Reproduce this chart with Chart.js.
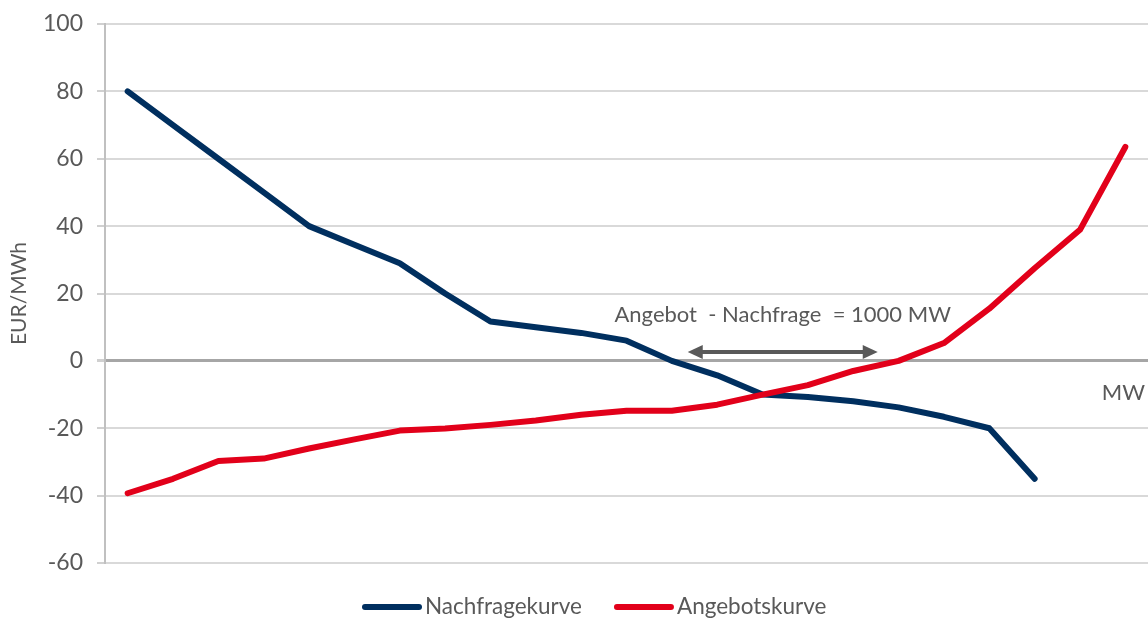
<!DOCTYPE html>
<html>
<head>
<meta charset="utf-8">
<script src="https://cdn.jsdelivr.net/npm/chart.js@4/dist/chart.umd.min.js"></script>
<style>
  html, body { margin: 0; padding: 0; background: #ffffff; }
  canvas { display: block; }
</style>
</head>
<body>
<canvas id="chart" width="1148" height="622"></canvas>
<script>
// Gebotsstufen (MW-Blöcke) entlang der x-Achse
const steps = ['1', '2', '3', '4', '5', '6', '7', '8', '9', '10', '11', '12',
               '13', '14', '15', '16', '17', '18', '19', '20', '21', '22', '23'];

// Preise in EUR/MWh
const nachfrage = [80, 70, 60, 50, 40, 34.5, 29, 20, 11.7, 10, 8.3, 6,
                   0, -4.3, -10, -10.7, -12, -13.8, -16.6, -20, -35, null, null];
const angebot   = [-39.3, -35, -29.7, -29, -26, -23.3, -20.7, -20.1, -19, -17.7, -16, -14.8,
                   -14.8, -13, -10, -7.2, -3, 0, 5.3, 15.5, 27.5, 38.9, 63.5];

const seriesNames = ['Nachfragekurve', 'Angebotskurve'];
const yTickValues = [-60, -40, -20, 0, 20, 40, 60, 80, 100];
const yTitle = 'EUR/MWh';
const xUnit = 'MW';

// Überschuss-Pfeil: von/bis (Stufenindex) und Höhe (EUR/MWh)
const gapLabel = 'Angebot  - Nachfrage  = 1000 MW';
const gapFrom = 12.35, gapTo = 16.54, gapLevel = 2.6, gapLabelLevel = 13.6;
const unitLevel = -9.4;

const FONT = 'Lato, "Open Sans", sans-serif';
const TEXT = '#595959';
const NAVY = '#002f5f';
const RED = '#e2001a';

const overlay = {
  id: 'overlay',
  afterDraw(chart) {
    const { ctx, scales: { x, y }, chartArea } = chart;
    ctx.save();

    // Doppelpfeil zwischen den Schnittpunkten mit der Nulllinie
    const x1 = x.getPixelForValue(gapFrom);
    const x2 = x.getPixelForValue(gapTo);
    const ya = y.getPixelForValue(gapLevel);
    const head = 15, half = 7;
    ctx.strokeStyle = TEXT;
    ctx.fillStyle = TEXT;
    ctx.lineWidth = 4;
    ctx.beginPath();
    ctx.moveTo(x1 + head - 2, ya);
    ctx.lineTo(x2 - head + 2, ya);
    ctx.stroke();
    ctx.beginPath();
    ctx.moveTo(x1, ya);
    ctx.lineTo(x1 + head, ya - half);
    ctx.lineTo(x1 + head, ya + half);
    ctx.closePath();
    ctx.fill();
    ctx.beginPath();
    ctx.moveTo(x2, ya);
    ctx.lineTo(x2 - head, ya - half);
    ctx.lineTo(x2 - head, ya + half);
    ctx.closePath();
    ctx.fill();

    // Beschriftung über dem Pfeil
    ctx.font = '22px ' + FONT;
    ctx.textAlign = 'center';
    ctx.textBaseline = 'middle';
    ctx.fillText(gapLabel, (x1 + x2) / 2, y.getPixelForValue(gapLabelLevel));

    // Einheit der x-Achse
    ctx.textAlign = 'right';
    ctx.fillText(xUnit, chartArea.right - 3, y.getPixelForValue(unitLevel));

    // Legende unter dem Diagramm
    ctx.font = '22.5px ' + FONT;
    ctx.textAlign = 'left';
    ctx.textBaseline = 'middle';
    const ly = 607, swatch = 54, gapText = 6, gapItems = 35;
    let lx = 365;
    chart.data.datasets.forEach(ds => {
      ctx.strokeStyle = ds.borderColor;
      ctx.lineWidth = 6;
      ctx.lineCap = 'round';
      ctx.beginPath();
      ctx.moveTo(lx, ly);
      ctx.lineTo(lx + swatch, ly);
      ctx.stroke();
      ctx.fillStyle = TEXT;
      ctx.fillText(ds.label, lx + swatch + gapText, ly);
      lx += swatch + gapText + ctx.measureText(ds.label).width + gapItems;
    });
    ctx.restore();
  }
};

new Chart(document.getElementById('chart'), {
  type: 'line',
  data: {
    labels: steps,
    datasets: [
      {
        label: seriesNames[0],
        data: nachfrage,
        borderColor: NAVY,
        backgroundColor: NAVY,
        borderWidth: 6,
        order: 1
      },
      {
        label: seriesNames[1],
        data: angebot,
        borderColor: RED,
        backgroundColor: RED,
        borderWidth: 6,
        order: 0
      }
    ]
  },
  options: {
    responsive: false,
    animation: false,
    layout: { padding: { left: 0, top: 24, right: 0, bottom: 59 } },
    elements: {
      line: { tension: 0, borderCapStyle: 'round', borderJoinStyle: 'round' },
      point: { radius: 0, hoverRadius: 0 }
    },
    plugins: {
      legend: { display: false },
      tooltip: { enabled: false }
    },
    scales: {
      x: {
        type: 'category',
        offset: true,
        display: false
      },
      y: {
        min: yTickValues[0],
        max: yTickValues[yTickValues.length - 1],
        afterBuildTicks(scale) {
          scale.ticks = yTickValues.map(v => ({ value: v }));
        },
        afterFit(scale) {
          scale.width = 105;
          scale.paddingTop = 0;
          scale.paddingBottom = 0;
        },
        ticks: {
          color: TEXT,
          padding: 14,
          font: { family: FONT, size: 23 }
        },
        grid: {
          color: c => (c.tick && c.tick.value === 0 ? '#a6a6a6' : '#d9d9d9'),
          lineWidth: c => (c.tick && c.tick.value === 0 ? 3 : 2),
          tickColor: '#d0d0d0',
          tickLength: 8,
          drawTicks: true
        },
        border: { color: '#c0c0c0', width: 2 },
        title: {
          display: true,
          text: yTitle,
          color: TEXT,
          font: { family: FONT, size: 21 },
          padding: { top: 7, bottom: 0 }
        }
      }
    }
  },
  plugins: [overlay]
});
</script>
</body>
</html>
